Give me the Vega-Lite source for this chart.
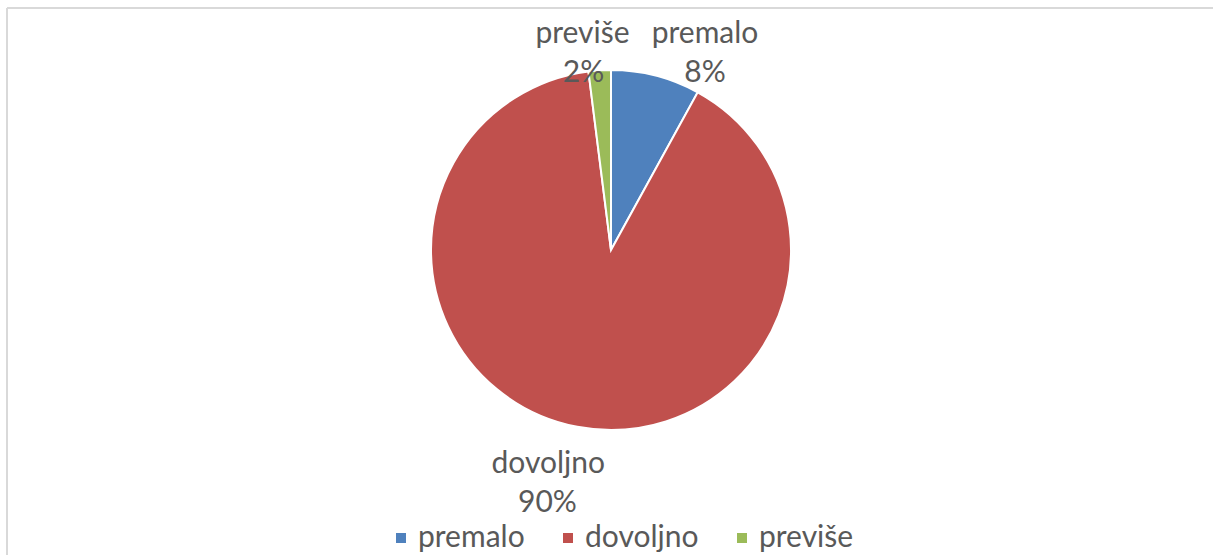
{
  "$schema": "https://vega.github.io/schema/vega-lite/v6.json",
  "width": 1208,
  "height": 547,
  "autosize": {"type": "none"},
  "padding": {"left": 7, "top": 8, "right": 0, "bottom": 0},
  "background": "#ffffff",
  "view": {"stroke": "#d9d9d9", "strokeWidth": 2, "strokeDash": [1208, 1755, 547, 0]},
  "config": {
    "font": "Lato",
    "text": {"font": "Lato", "fontSize": 30, "fill": "#595959", "align": "center", "baseline": "alphabetic"}
  },
  "data": {"values": [
    {"kategorija": "premalo", "udio": 0.08},
    {"kategorija": "dovoljno", "udio": 0.90},
    {"kategorija": "previše", "udio": 0.02}
  ]},
  "transform": [{"window": [{"op": "row_number", "as": "redoslijed"}]}],
  "encoding": {
    "theta": {"field": "udio", "type": "quantitative", "stack": true, "scale": {"domain": [0, 1]}},
    "order": {"field": "redoslijed", "type": "quantitative", "sort": "ascending"}
  },
  "layer": [
    {
      "mark": {"type": "arc", "outerRadius": 180, "stroke": "#ffffff", "strokeWidth": 2, "yOffset": -31.5},
      "encoding": {
        "color": {
          "field": "kategorija", "type": "nominal",
          "scale": {"domain": ["premalo", "dovoljno", "previše"], "range": ["#4f81bd", "#c0504d", "#9bbb59"]},
          "legend": {
            "orient": "none", "legendX": 379, "legendY": 515, "direction": "horizontal", "title": null,
            "symbolType": "square", "symbolSize": 100, "symbolStrokeWidth": 0,
            "labelFont": "Lato", "labelFontSize": 30, "labelColor": "#595959",
            "labelOffset": 2, "columnPadding": 28, "padding": 0, "labelLimit": 400
          }
        }
      }
    },
    {
      "mark": {"type": "text", "radius": 190, "yOffset": -31.5, "dx": -16.6, "dy": -17.4},
      "encoding": {"text": {"condition": {"test": "datum.kategorija === 'previše'", "field": "kategorija", "type": "nominal"}, "value": ""}}
    },
    {
      "mark": {"type": "text", "radius": 190, "yOffset": -31.5, "dx": -15.6, "dy": 21.6},
      "encoding": {"text": {"condition": {"test": "datum.kategorija === 'previše'", "field": "udio", "type": "quantitative", "format": ".0%"}, "value": ""}}
    },
    {
      "mark": {"type": "text", "radius": 195, "yOffset": -31.5, "dx": 45.5, "dy": -18.1},
      "encoding": {"text": {"condition": {"test": "datum.kategorija === 'premalo'", "field": "kategorija", "type": "nominal"}, "value": ""}}
    },
    {
      "mark": {"type": "text", "radius": 195, "yOffset": -31.5, "dx": 45.5, "dy": 20.9},
      "encoding": {"text": {"condition": {"test": "datum.kategorija === 'premalo'", "field": "udio", "type": "quantitative", "format": ".0%"}, "value": ""}}
    },
    {
      "mark": {"type": "text", "radius": 245, "yOffset": -31.5, "dx": -16.8, "dy": -18},
      "encoding": {"text": {"condition": {"test": "datum.kategorija === 'dovoljno'", "field": "kategorija", "type": "nominal"}, "value": ""}}
    },
    {
      "mark": {"type": "text", "radius": 245, "yOffset": -31.5, "dx": -17.6, "dy": 21},
      "encoding": {"text": {"condition": {"test": "datum.kategorija === 'dovoljno'", "field": "udio", "type": "quantitative", "format": ".0%"}, "value": ""}}
    }
  ]
}
